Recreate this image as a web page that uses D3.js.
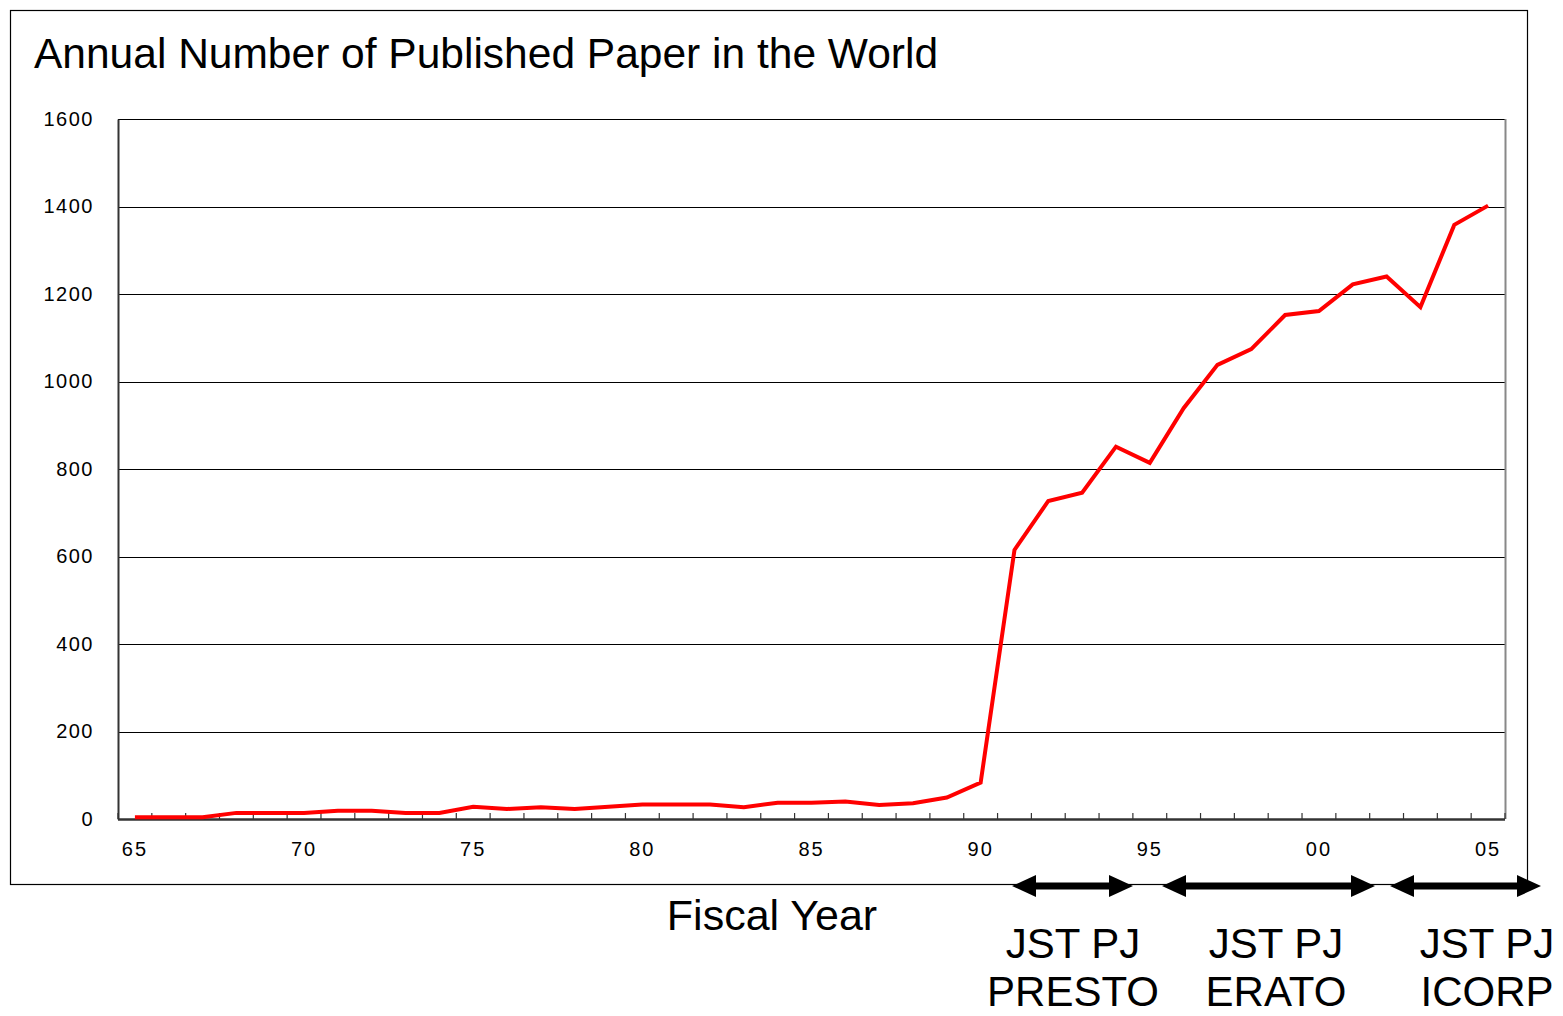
<!DOCTYPE html>
<html><head><meta charset="utf-8">
<script src="https://cdn.jsdelivr.net/npm/d3@7"></script>
<style>body{margin:0;background:#fff}svg{display:block;font-family:"Liberation Sans",Arial,sans-serif}</style>
</head><body>
<svg id="c" width="1563" height="1016"></svg>
<script>
const years = ["65","66","67","68","69","70","71","72","73","74","75","76","77","78","79","80","81","82","83","84","85","86","87","88","89","90","91","92","93","94","95","96","97","98","99","00","01","02","03","04","05"];
const papers = [4,4,4,14,14,14,19,19,14,14,28,23,27,23,28,33,33,33,27,37,37,40,32,36,49,83,615,727,746,851,814,939,1038,1074,1152,1161,1222,1240,1170,1358,1402];
const yTicks = [0,200,400,600,800,1000,1200,1400,1600];
const xLabels = ["65","70","75","80","85","90","95","00","05"];
const programs = [
  {name:["JST PJ","PRESTO"], from:1012, to:1133, cx:1073},
  {name:["JST PJ","ERATO"], from:1162, to:1375, cx:1276},
  {name:["JST PJ","ICORP"], from:1390, to:1541, cx:1487}
];
const title = "Annual Number of Published Paper in the World";
const xTitle = "Fiscal Year";

const svg = d3.select("#c");
const L=118,R=1505,T=119,B=819;
const x = d3.scaleBand().domain(years).range([L,R]);
const y = d3.scaleLinear().domain([0,1600]).range([B,T]);

// outer frame
svg.append("rect").attr("x",10.5).attr("y",10.5).attr("width",1517).attr("height",874)
  .attr("fill","none").attr("stroke","#000").attr("stroke-width",1.2);

svg.append("text").attr("x",34).attr("y",68).attr("font-size",42.5).attr("fill","#000").text(title);

// gridlines
svg.append("g").selectAll("line").data(yTicks).join("line")
  .attr("x1",L).attr("x2",R).attr("y1",d=>Math.round(y(d))+0.5).attr("y2",d=>Math.round(y(d))+0.5)
  .attr("stroke","#000").attr("stroke-width",1);
// right border
svg.append("line").attr("x1",R+0.5).attr("x2",R+0.5).attr("y1",T).attr("y2",B).attr("stroke","#888").attr("stroke-width",2);

// y axis
const ya = svg.append("g").attr("transform",`translate(${L},0)`)
  .call(d3.axisLeft(y).tickValues(yTicks).tickSize(0).tickPadding(24).tickFormat(d3.format("d")));
ya.select(".domain").attr("stroke","#333").attr("stroke-width",2);
ya.selectAll("text").attr("font-size",20).attr("font-family","Liberation Sans, Arial").attr("letter-spacing","1.5px").attr("fill","#000");

// x axis (ticks at category boundaries, inward)
const bounds = years.map(d=>x(d)).concat([R]);
svg.append("g").selectAll("line").data(bounds).join("line")
  .attr("x1",d=>d).attr("x2",d=>d).attr("y1",B).attr("y2",B-6).attr("stroke","#333").attr("stroke-width",1.2);
svg.append("line").attr("x1",L).attr("x2",R).attr("y1",B+0.5).attr("y2",B+0.5).attr("stroke","#333").attr("stroke-width",2.5);
svg.append("g").selectAll("text").data(xLabels).join("text")
  .attr("x",d=>x(d)+x.bandwidth()/2).attr("y",856).attr("text-anchor","middle")
  .attr("font-size",20).attr("letter-spacing","2px").attr("fill","#000").text(d=>d);

// line
const line = d3.line().x((d,i)=>x(years[i])+x.bandwidth()/2).y(d=>y(d));
svg.append("path").datum(papers).attr("d",line).attr("fill","none")
  .attr("stroke","#ff0000").attr("stroke-width",4).attr("stroke-linejoin","miter");

// x title
svg.append("text").attr("x",772).attr("y",930).attr("text-anchor","middle").attr("font-size",43).attr("fill","#000").text(xTitle);

// program arrows
const ay = 886;
programs.forEach(p=>{
  const x1 = p.from, x2 = p.to;
  const g = svg.append("g");
  const hl=24, hh=11;
  g.append("line").attr("x1",x1+hl-2).attr("x2",x2-hl+2).attr("y1",ay).attr("y2",ay).attr("stroke","#000").attr("stroke-width",7);
  g.append("path").attr("d",`M${x1},${ay}L${x1+hl},${ay-hh}L${x1+hl},${ay+hh}Z`).attr("fill","#000");
  g.append("path").attr("d",`M${x2},${ay}L${x2-hl},${ay-hh}L${x2-hl},${ay+hh}Z`).attr("fill","#000");
  g.append("text").attr("x",p.cx).attr("y",958).attr("text-anchor","middle").attr("font-size",42).attr("fill","#000").text(p.name[0]);
  g.append("text").attr("x",p.cx).attr("y",1006).attr("text-anchor","middle").attr("font-size",42).attr("fill","#000").text(p.name[1]);
});
</script>
</body></html>
